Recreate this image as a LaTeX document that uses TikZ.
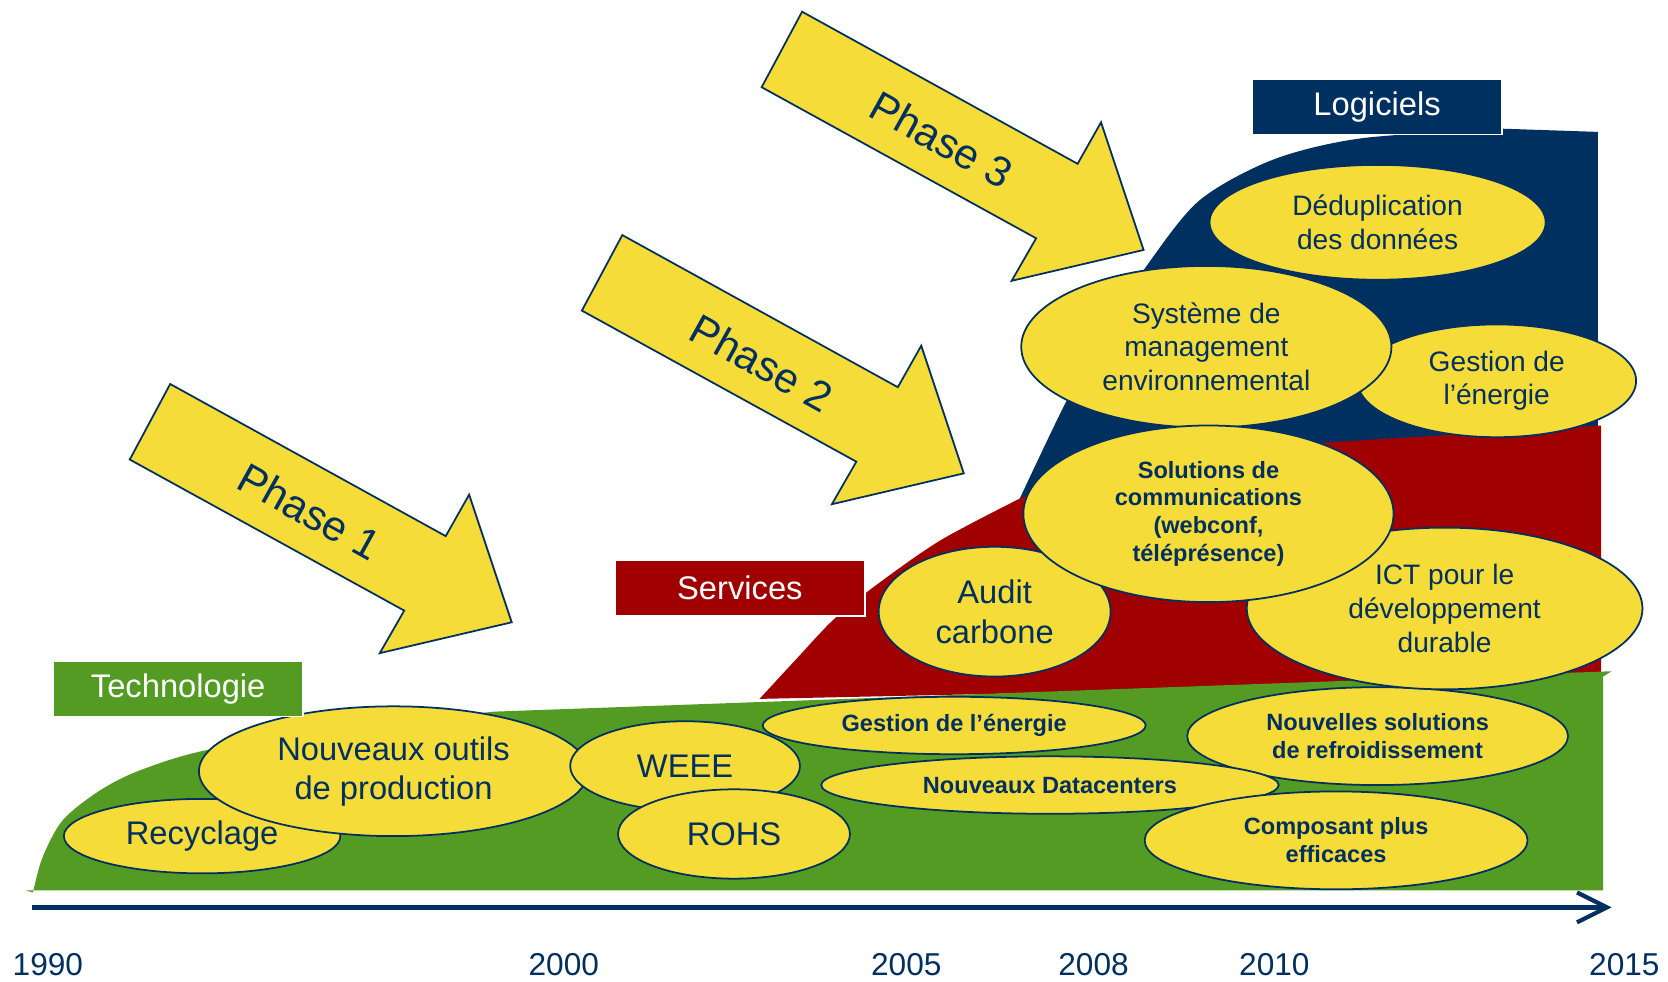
\documentclass[tikz,border=0pt]{standalone}
\usepackage{fontspec}
\setmainfont{Liberation Sans}
\usetikzlibrary{shapes.geometric,arrows.meta}

\definecolor{marine}{RGB}{0,48,96}
\definecolor{jaune}{RGB}{246,220,56}
\definecolor{rouge}{RGB}{160,0,0}
\definecolor{vert}{RGB}{84,155,35}

\newcommand{\pxu}{0.010638cm}

\tikzset{
  bulle/.style 2 args={ellipse, draw=marine, line width=0.5pt, fill=jaune, text=marine,
    inner sep=0pt, align=center, minimum width=#1*\pxu, minimum height=#2*\pxu},
  grand/.style={font=\fontsize{9.3}{11.2}\selectfont},
  moyen/.style={font=\fontsize{8}{9.6}\selectfont},
  petit/.style={font=\fontsize{6.7}{7.9}\selectfont\bfseries},
  etiquette/.style={fill=#1, draw=white, line width=0.4pt, text=white, minimum width=235*\pxu,
    minimum height=52*\pxu, font=\fontsize{9.3}{11}\selectfont},
  annee/.style={text=marine, font=\fontsize{9}{11}\selectfont},
  fleche/.style={fill=jaune, draw=marine, line width=0.5pt, line join=miter},
  phase/.style={text=marine, rotate=-29, font=\fontsize{12}{14}\selectfont}
}

\begin{document}
\begin{tikzpicture}[x=0.010638cm, y=-0.010638cm]
        \useasboundingbox (0,0) rectangle (1568,923);

        % zones
        \fill[marine] plot[smooth] coordinates {(958,470) (1000,382) (1038,312) (1080,247) (1128,188) (1197,150) (1280,130) (1413,121)}
                -- (1502,124) -- (1502,430) -- (958,480) -- cycle;
        \fill[rouge] plot[smooth] coordinates {(714,657) (750,618) (783,583) (821,552) (884,508) (962,467)}
                -- (1100,425) -- (1505,400) -- (1505,640) -- cycle;
        \fill[vert] (24,837) -- plot[smooth] coordinates {(31,839) (40,806) (59,771) (94,743) (132,724) (195,705) (320,686) (464,669)}
                -- (1515,631) -- (1507,636) -- (1507,837) -- cycle;

        % phases
        \foreach \tx/\ty/\num in {481/585/1, 906/445/2, 1075/235/3} {
                \begin{scope}[shift={(\tx,\ty)}]
                \draw[fleche] (0,0) -- (-40,-120) -- (-62,-81) -- (-321,-224) -- (-359,-153) -- (-101,-11) -- (-124,29) -- cycle;
                \node[phase] (phase\num) at (-190,-104) {Phase \num};
                \end{scope}
        }

        % axe
        \coordinate (debut) at (30,853);
        \coordinate (fin) at (1515,853);
        \draw[marine, line width=1.2pt, -{Straight Barb[length=8.5pt,width=8.5pt]}] (debut) -- (fin);

        \node[annee] (a1990) at (45,907) {1990};
        \node[annee] (a2000) at (530,907) {2000};
        \node[annee] (a2005) at (852,907) {2005};
        \node[annee] (a2008) at (1028,907) {2008};
        \node[annee] (a2010) at (1198,907) {2010};
        \node[annee] (a2015) at (1527,907) {2015};

        % technologie
        \node[bulle={260}{70}, grand] (recyclage) at (190,786) {Recyclage};
        \node[bulle={366}{122}, grand] (outils) at (370,725) {Nouveaux outils\\de production};
        \node[bulle={216}{84}, grand] (weee) at (644,720) {WEEE};
        \node[bulle={218}{84}, grand] (rohs) at (690,784) {ROHS};
        \node[bulle={360}{54}, petit] (energiebas) at (897,682) {Gestion de l’énergie};
        \node[bulle={358}{92}, petit] (refroid) at (1295,692) {Nouvelles solutions\\de refroidissement};
        \node[bulle={430}{54}, petit] (datacenters) at (987,738) {Nouveaux Datacenters};
        \node[bulle={360}{92}, petit] (composant) at (1256,790) {Composant plus\\efficaces};

        % services
        \node[bulle={218}{122}, grand] (audit) at (935,575) {Audit\\carbone};
        \node[bulle={372}{152}, moyen] (ict) at (1358,572) {ICT pour le\\développement\\durable};

        % logiciels
        \node[bulle={262}{106}, moyen] (energiehaut) at (1407,358) {Gestion de\\l’énergie};
        \node[bulle={316}{108}, moyen] (dedup) at (1295,209) {Déduplication\\des données};
        \node[bulle={348}{152}, moyen] (sme) at (1134,326) {Système de\\management\\environnemental};
        \node[bulle={348}{166}, petit] (communic) at (1136,483) {Solutions de\\communications\\(webconf,\\téléprésence)};

        \node[etiquette=vert] (techno) at (167.5,647.5) {Technologie};
        \node[etiquette=rouge] (services) at (695.5,553) {Services};
        \node[etiquette=marine] (logiciels) at (1294.5,100.5) {Logiciels};
\end{tikzpicture}
\end{document}
